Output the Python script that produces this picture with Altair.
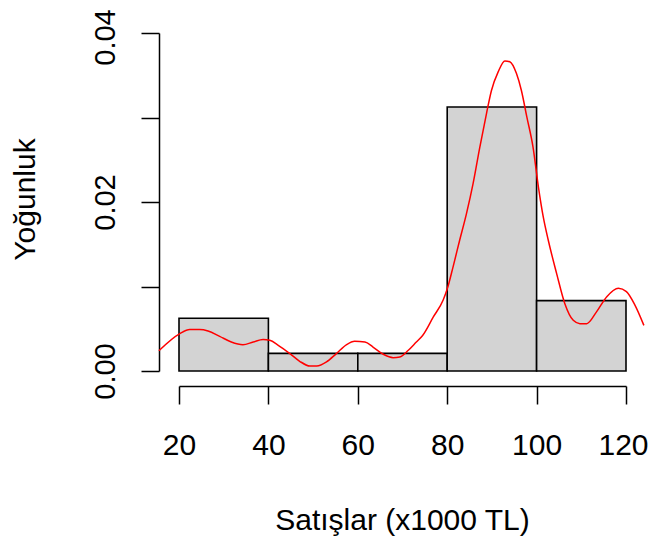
import altair as alt
import pandas as pd

# Histogram (density scale)
bin_start = [20, 40, 60, 80, 100]
bin_end = [40, 60, 80, 100, 120]
density = [0.00625, 0.002083, 0.002083, 0.03125, 0.008333]

# Kernel density curve
curve_x = [15.5, 20.2, 22.4, 24.6, 26.5, 29.1, 31.7, 34.3, 36.6, 38.8, 40.3,
           42.2, 44.8, 47.0, 49.3, 50.8, 53.0, 55.2, 57.5, 59.3, 61.6, 63.4,
           65.7, 67.9, 69.4, 71.3, 73.1, 74.5, 76.9, 79.1, 80.0, 81.3, 82.8,
           84.3, 85.8, 87.3, 88.8, 89.9, 91.4, 92.9, 94.0, 95.5, 96.6, 97.8,
           99.2, 100.4, 101.5, 102.6, 104.5, 106.3, 108.2, 109.7, 111.2,
           113.4, 115.7, 118.3, 120.1, 122.0, 124.0]
curve_y = [0.0024, 0.00443, 0.0049, 0.0049, 0.00473, 0.0041, 0.00343, 0.00312,
           0.00343, 0.00372, 0.00363, 0.00304, 0.00206, 0.00115, 0.00059,
           0.00059, 0.00107, 0.00206, 0.00312, 0.00351, 0.00343, 0.00284,
           0.00198, 0.00158, 0.00166, 0.00245, 0.00343, 0.0042, 0.0064,
           0.0084, 0.0097, 0.0123, 0.0155, 0.0186, 0.0222, 0.0265, 0.0305,
           0.0332, 0.0354, 0.0367, 0.0366, 0.0352, 0.0332, 0.0301, 0.0265,
           0.0218, 0.0182, 0.0155, 0.0115, 0.0080, 0.0060, 0.0056, 0.0056,
           0.0070, 0.0088, 0.0098, 0.0094, 0.0078, 0.0054]

x_ticks = [20, 40, 60, 80, 100, 120]
y_ticks = [0, 0.01, 0.02, 0.03, 0.04]

FONT = "Liberation Sans"

bars_df = pd.DataFrame({"start": bin_start, "end": bin_end, "d": density})
curve_df = pd.DataFrame({"x": curve_x, "y": curve_y})

xscale = alt.Scale(domain=[20, 120], nice=False, zero=False)
yscale = alt.Scale(domain=[0, 0.04], nice=False)

xaxis = alt.Axis(
    title="Satışlar (x1000 TL)", values=x_ticks, grid=False, offset=15,
    tickSize=18, tickWidth=1.5, tickColor="#000", domainColor="#000",
    domainWidth=1.5, labelFontSize=30, labelFont=FONT, labelColor="#000",
    labelPadding=50, labelBaseline="alphabetic", labelFlush=False,
    labelOverlap=False,
    labelOffset={"condition": {"test": "datum.value >= 119", "value": -3}, "value": 0},
    titleFontSize=30, titleFont=FONT,
    titleFontWeight="normal", titleColor="#000", titleBaseline="alphabetic",
    titleY=143, titleX=223,
)
yaxis = alt.Axis(
    title="Yoğunluk", values=y_ticks, grid=False, offset=20,
    tickSize=18, tickWidth=1.5, tickColor="#000", domainColor="#000",
    domainWidth=1.5, labelFontSize=29, labelFont=FONT, labelColor="#000",
    labelAngle=-90, labelAlign="center", labelBaseline="alphabetic",
    labelPadding=27, labelFlush=False, labelOverlap=False,
    labelOffset={"condition": {"test": "datum.value >= 0.039", "value": 4}, "value": 0},
    labelExpr="round(datum.value*100) % 2 == 0 ? format(datum.value, '.2f') : ''",
    titleFontSize=30, titleFont=FONT, titleFontWeight="normal",
    titleColor="#000", titleAngle=-90, titleBaseline="alphabetic",
    titleAlign="center", titleX=-125, titleY=166,
)

bars = alt.Chart(bars_df).mark_rect(
    fill="#D3D3D3", stroke="#000", strokeWidth=1.6
).encode(
    x=alt.X("start:Q", scale=xscale, axis=xaxis),
    x2="end:Q",
    y=alt.Y("d:Q", scale=yscale, axis=yaxis),
    y2=alt.datum(0),
)

curve = alt.Chart(curve_df).mark_line(
    color="#FF0000", strokeWidth=1.5, interpolate="monotone"
).encode(
    x=alt.X("x:Q", scale=xscale),
    y=alt.Y("y:Q", scale=yscale),
)

chart = alt.layer(bars, curve).properties(
    width=447, height=338,
    autosize=alt.AutoSizeParams(type="none"),
    padding={"left": 171, "top": 25, "right": 22, "bottom": 170},
).configure_view(stroke=None)

chart.save("out.html", embed_options={"renderer": "svg", "actions": False})
